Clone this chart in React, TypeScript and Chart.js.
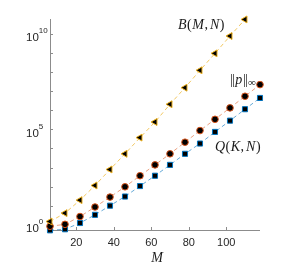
import React, { useEffect, useRef } from "react";
import { Chart, registerables } from "chart.js";
Chart.register(...registerables);

// M values
const mValues = [6, 14, 22, 30, 38, 46, 54, 62, 70, 78, 86, 94, 102, 110, 118];
const mValuesB = [6, 14, 22, 30, 38, 46, 54, 62, 70, 78, 86, 94, 102, 110];
// B(M,N)
const bValues = [1.48, 4.07, 19.5, 115, 794, 5.25e3, 3.72e4, 2.45e5, 2.09e6, 1.55e7, 1.26e8, 9.77e8, 7.94e9, 5.89e10];
// ||p||_inf
const pValues = [0.83, 1.05, 2.69, 8.51, 28.2, 97.7, 372, 1.38e3, 5.25e3, 2.14e4, 8.71e4, 3.39e5, 1.35e6, 5.5e6, 2.24e7];
// Q(K,N)
const qValues = [0.51, 0.58, 1.23, 3.31, 10, 30.2, 107, 372, 1.38e3, 5.25e3, 1.82e4, 7.41e4, 2.88e5, 1.15e6, 4.47e6];

const xTicks = [20, 40, 60, 80, 100];
const yDecades = [0, 1, 2, 3, 4, 5, 6, 7, 8, 9, 10];
const yLabelDecades = [0, 5, 10];

const SANS = "'Liberation Sans', Arial, sans-serif";
const SERIF = "'Liberation Serif', 'Times New Roman', serif";

type Seg = [string, string, number?, number?];

function drawSeq(ctx: CanvasRenderingContext2D, x: number, y: number, segs: Seg[], gap = 0) {
  let cx = x;
  for (const [t, f, dy, extra] of segs) {
    ctx.font = f;
    ctx.fillText(t, cx, y + (dy || 0));
    cx += ctx.measureText(t).width + gap + (extra || 0);
  }
}

const axesPlugin = {
  id: "matlabAxes",
  beforeDatasetsDraw(chart: any) {
    const { ctx, chartArea: a, scales } = chart;
    const x = scales.x;
    const y = scales.y;
    ctx.save();
    ctx.strokeStyle = "#8c8c8c";
    ctx.lineWidth = 1;
    ctx.beginPath();
    ctx.moveTo(a.left + 0.5, a.top);
    ctx.lineTo(a.left + 0.5, a.bottom + 0.5);
    ctx.lineTo(a.right, a.bottom + 0.5);
    ctx.stroke();
    ctx.beginPath();
    for (const e of yDecades) {
      const py = Math.round(y.getPixelForValue(Math.pow(10, e))) + 0.5;
      ctx.moveTo(a.left, py);
      ctx.lineTo(a.left + 3, py);
    }
    for (const t of xTicks) {
      const px = Math.round(x.getPixelForValue(t)) + 0.5;
      ctx.moveTo(px, a.bottom);
      ctx.lineTo(px, a.bottom - 3);
    }
    ctx.stroke();

    ctx.fillStyle = "#262626";
    ctx.textBaseline = "middle";
    ctx.textAlign = "center";
    ctx.font = `11px ${SANS}`;
    for (const t of xTicks) {
      ctx.fillText(String(t), x.getPixelForValue(t), a.bottom + 13);
    }
    ctx.textAlign = "left";
    for (const e of yLabelDecades) {
      const py = y.getPixelForValue(Math.pow(10, e));
      ctx.font = `11.5px ${SANS}`;
      ctx.fillText("10", 26, py + 4);
      const w = ctx.measureText("10").width;
      ctx.font = `8px ${SANS}`;
      ctx.fillText(String(e), 26 + w, py - 3);
    }
    ctx.restore();
  },
  afterDraw(chart: any) {
    const { ctx, chartArea: a } = chart;
    ctx.save();
    ctx.fillStyle = "#1a1a1a";
    ctx.textBaseline = "alphabetic";
    ctx.textAlign = "left";
    const it = `italic 14px ${SERIF}`;
    const rm = `14px ${SERIF}`;
    drawSeq(ctx, 178, 29, [["B", it], ["(", rm], ["M", it], [",", rm, 0, 1.5], ["N", it], [")", rm]], 0.5);
    drawSeq(ctx, 230, 84, [["|", rm, 0, -0.8], ["|", rm], ["p", it, 0, 0.5], ["|", rm, 0, -0.8], ["|", rm], ["\u221E", `11px ${SERIF}`, 2]], 0.2);
    drawSeq(ctx, 215, 151, [["Q", it], ["(", rm], ["K", it], [",", rm, 0, 1.5], ["N", it], [")", rm]], 0.5);
    ctx.textAlign = "center";
    ctx.font = it;
    ctx.fillText("M", (a.left + a.right) / 2 + 2, 261.5);
    ctx.restore();
  },
};

export default function App() {
  const ref = useRef<HTMLCanvasElement | null>(null);
  useEffect(() => {
    if (!ref.current) return;
    const chart = new Chart(ref.current, {
      type: "line",
      data: {
        datasets: [
          {
            label: "B(M,N)",
            data: mValuesB.map((m, i) => ({ x: m, y: bValues[i] })),
            borderColor: "rgba(237,177,32,0.7)",
            borderDash: [4, 3],
            borderWidth: 1,
            pointStyle: "triangle",
            pointRotation: -90,
            pointRadius: 4,
            pointBackgroundColor: "#000",
            pointBorderColor: "#EDB120",
            pointBorderWidth: 1,
            clip: false,
          } as any,
          {
            label: "||p||",
            data: mValues.map((m, i) => ({ x: m, y: pValues[i] })),
            borderColor: "rgba(217,83,25,0.55)",
            borderDash: [4, 3],
            borderWidth: 1,
            pointStyle: "circle",
            pointRadius: 3.3,
            pointBackgroundColor: "#000",
            pointBorderColor: "#D95319",
            pointBorderWidth: 1,
            clip: false,
          } as any,
          {
            label: "Q(K,N)",
            data: mValues.map((m, i) => ({ x: m, y: qValues[i] })),
            borderColor: "rgba(0,114,189,0.6)",
            borderDash: [4, 3],
            borderWidth: 1,
            pointStyle: "rect",
            pointRadius: 3.6,
            pointBackgroundColor: "#000",
            pointBorderColor: "#0072BD",
            pointBorderWidth: 1,
            clip: false,
          } as any,
        ],
      },
      options: {
        animation: false,
        responsive: false,
        maintainAspectRatio: false,
        events: [],
        layout: { padding: { left: 50, right: 40, top: 19, bottom: 38 } },
        scales: {
          x: { type: "linear", min: 6, max: 118, display: false },
          y: { type: "logarithmic", min: 0.53, max: 6.2e10, display: false },
        },
        plugins: { legend: { display: false }, tooltip: { enabled: false } },
      },
      plugins: [axesPlugin],
    });
    return () => chart.destroy();
  }, []);
  return (
    <div style={{ position: "fixed", left: 0, top: 0, width: 300, height: 268, background: "#fff" }}>
      <canvas ref={ref} width={300} height={268} style={{ display: "block" }} />
    </div>
  );
}
